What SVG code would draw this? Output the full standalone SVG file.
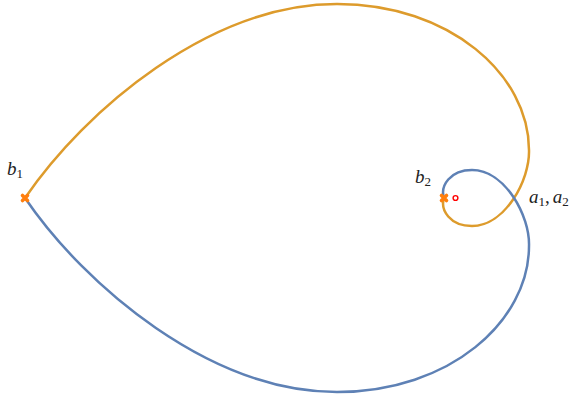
<svg xmlns="http://www.w3.org/2000/svg" width="580" height="398" viewBox="0 0 580 398">
<style>
.curve{fill:none;stroke-width:2.5;stroke-linecap:round}
.orange{stroke:#dd9b2c}
.blue{stroke:#5e81b5}
.mark{stroke:#ff7f0e;stroke-width:3.6;stroke-linecap:round}
.lbl{font-family:"Liberation Serif","DejaVu Serif",serif;font-style:italic;font-size:19px;fill:#222}
.sub{font-style:normal;font-size:13px}
</style>
<rect width="580" height="398" fill="#fff"/>
<g id="curves">
<path id="orange-curve" class="curve orange" d="M25,198 C85,110 210,4 337,4 C450,4 529,75 529,150 C530,180 505,226 472,226 C450,226 440,210 444,198"/>
<path id="blue-curve" class="curve blue" transform="translate(0,396) scale(1,-1)" d="M25,198 C85,110 210,4 337,4 C450,4 529,75 529,150 C530,180 505,226 472,226 C450,226 440,210 444,198"/>
</g>
<g id="markers">
<path class="mark" d="M22.5,195.5 L27.5,200.5 M27.5,195.5 L22.5,200.5"/>
<path class="mark" d="M441.5,195.5 L446.5,200.5 M446.5,195.5 L441.5,200.5"/>
<circle cx="455.5" cy="198" r="2.4" fill="#fff" stroke="#ff0000" stroke-width="1.4"/>
</g>
<g id="labels">
<text class="lbl" x="7" y="175">b<tspan class="sub" dy="3">1</tspan></text>
<text class="lbl" x="415" y="183">b<tspan class="sub" dy="3">2</tspan></text>
<text class="lbl" x="529" y="203">a<tspan class="sub" dy="3">1</tspan><tspan dy="-3" font-style="normal">,</tspan><tspan dx="3">a</tspan><tspan class="sub" dy="3">2</tspan></text>
</g>
</svg>
